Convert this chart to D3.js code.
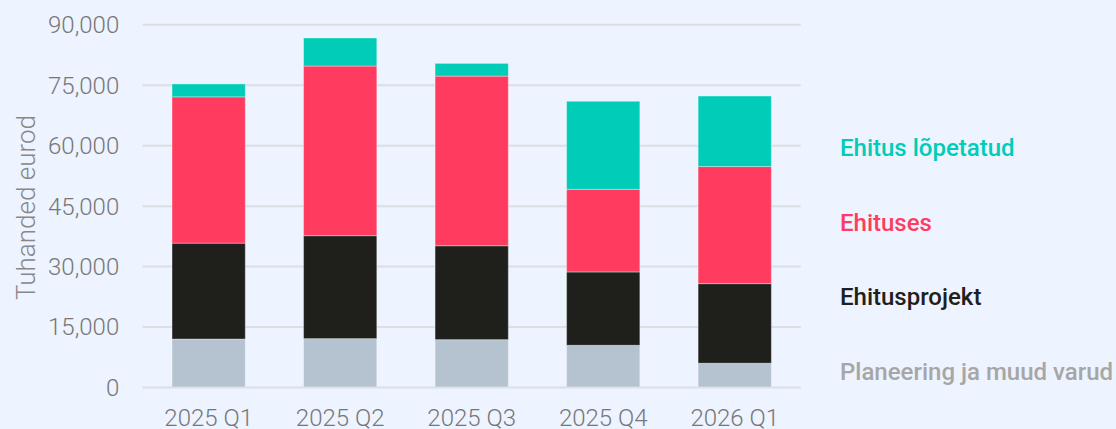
<!DOCTYPE html>
<html><head><meta charset="utf-8">
<script src="https://cdn.jsdelivr.net/npm/d3@7/dist/d3.min.js"></script>
<style>
html,body{margin:0;padding:0;background:#EDF3FF;}
svg{display:block;}
text{font-family:Roboto, "Noto Sans", sans-serif;}
</style></head>
<body>
<svg id="chart" width="1116" height="429"></svg>
<script>
const categories = ["2025 Q1","2025 Q2","2025 Q3","2025 Q4","2026 Q1"];
const seriesNames = ["Planeering ja muud varud","Ehitusprojekt","Ehituses","Ehitus lõpetatud"];
const planeering = [11900, 12000, 11750, 10350, 5900];
const ehitusprojekt = [23800, 25550, 23300, 18200, 19750];
const ehituses = [36300, 42100, 42100, 20500, 29050];
const ehitusLopetatud = [3200, 6950, 3150, 21850, 17500];
const yTicks = [0, 15000, 30000, 45000, 60000, 75000, 90000];
const colors = ["#B5C3D0", "#1F201C", "#FF3B5F", "#00CCB8"];
const legendColors = ["#A6A6A6", "#1F201C", "#FF3B5F", "#00CCB8"];
const yTitle = "Tuhanded eurod";

(function(){
const seriesValues = [planeering, ehitusprojekt, ehituses, ehitusLopetatud];
const rows = categories.map((c,i)=>{
  const r = {cat:c};
  seriesNames.forEach((s,j)=>r[s]=seriesValues[j][i]);
  return r;
});

const svg = d3.select("#chart");
const mLeft = 142.7, mRight = 800.7, mTop = 24.3, mBottom = 387;

const x = d3.scaleBand().domain(categories).range([mLeft, mRight]).paddingInner(0.443).paddingOuter(0.223);
const y = d3.scaleLinear().domain([0, 90000]).range([mBottom, mTop]);

const yAxis = d3.axisLeft(y).tickValues(yTicks).tickSize(-(mRight-mLeft)).tickPadding(23.5).tickFormat(d3.format(","));
const gy = svg.append("g").attr("transform", `translate(${mLeft},0)`).call(yAxis);
gy.select(".domain").remove();
gy.selectAll(".tick line").attr("stroke", "#DCDEE2").attr("stroke-width", 2);
gy.selectAll(".tick text").attr("fill", "#777777").attr("font-size", 24).attr("font-weight", 300)
  .attr("font-family","Roboto").attr("dy","0.35em");

const stacked = d3.stack().keys(seriesNames)(rows);

svg.append("g").selectAll("g").data(stacked).join("g")
  .attr("fill", (d,i)=>colors[i])
  .selectAll("rect").data(d=>d).join("rect")
  .attr("x", d=>x(d.data.cat))
  .attr("width", x.bandwidth())
  .attr("y", d=>y(d[1]))
  .attr("height", d=>y(d[0])-y(d[1]))
  .attr("stroke", "rgba(255,255,255,0.35)")
  .attr("stroke-width", 1);

const xAxis = d3.axisBottom(x).tickSize(0).tickPadding(22);
const gx = svg.append("g").attr("transform", `translate(0,${mBottom})`).call(xAxis);
gx.select(".domain").remove();
gx.selectAll(".tick text").attr("fill", "#777777").attr("font-size", 24).attr("font-weight", 300)
  .attr("font-family","Roboto").attr("dy", "0.71em");

svg.append("text")
  .attr("transform", `translate(35,207.5) rotate(-90)`)
  .attr("text-anchor", "middle")
  .attr("fill", "#888888")
  .attr("font-size", 26)
  .attr("font-weight", 300)
  .text(yTitle);

const legendY = [379.5, 305, 231, 155.5];
svg.append("g").selectAll("text").data(seriesNames).join("text")
  .attr("x", 840)
  .attr("y", (d,i)=>legendY[i])
  .attr("fill", (d,i)=>legendColors[i])
  .attr("font-size", 24)
  .attr("font-weight", 500)
  .text(d=>d);
})();
</script>
</body></html>
